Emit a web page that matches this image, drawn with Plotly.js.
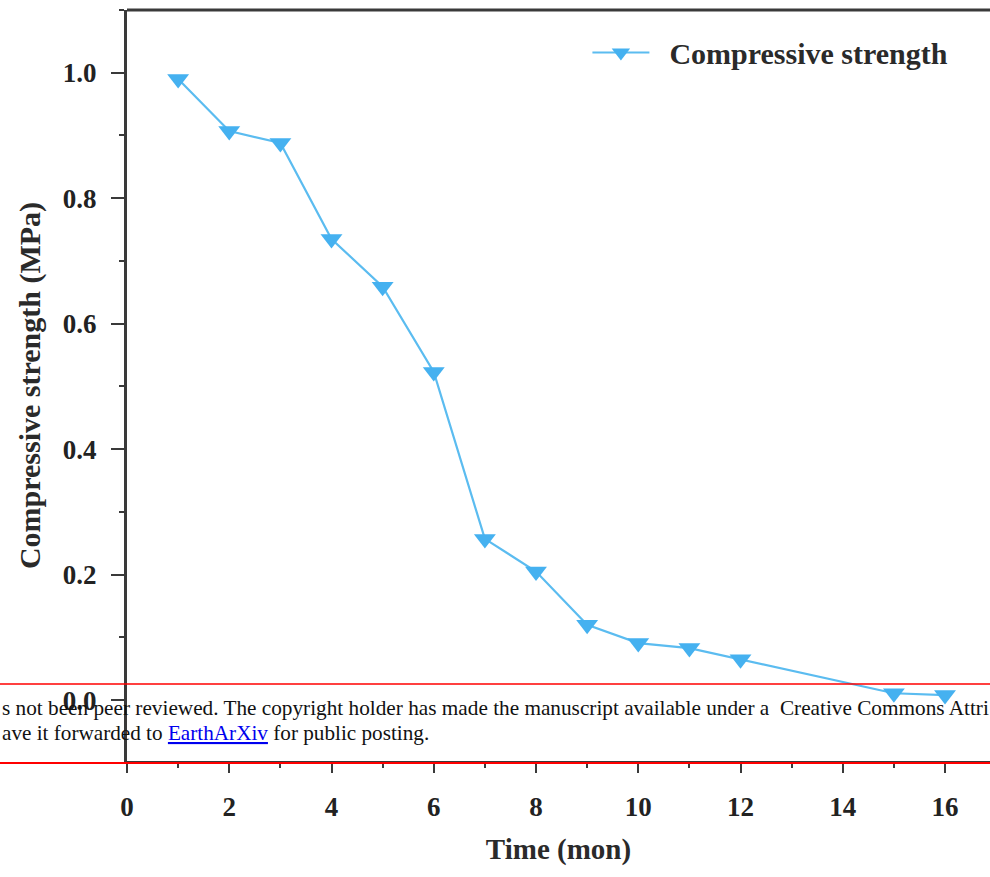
<!DOCTYPE html>
<html>
<head>
<meta charset="utf-8">
<script src="https://cdn.plot.ly/plotly-3.0.1.min.js"></script>
<style>html,body{margin:0;padding:0;background:#fff;overflow:hidden}</style>
</head>
<body>
<div id="chart" style="width:990px;height:877px"></div>
<script>
// Data
const timeMonths = [1, 2, 3, 4, 5, 6, 7, 8, 9, 10, 11, 12, 15, 16];
const compressiveStrength = [0.99, 0.907, 0.888, 0.735, 0.659, 0.523, 0.257, 0.205, 0.12, 0.091, 0.083, 0.065, 0.011, 0.008];
const xTickVals = [0, 2, 4, 6, 8, 10, 12, 14, 16];
const yTickVals = [0.0, 0.2, 0.4, 0.6, 0.8, 1.0];
const yTickText = ['0.0', '0.2', '0.4', '0.6', '0.8', '1.0'];
const seriesName = 'Compressive strength';
const bannerLine1 = 's not been peer reviewed. The copyright holder has made the manuscript available under a&nbsp; Creative Commons Attri';
const bannerLine2 = 'ave it forwarded to <span style="color:#0000EE;text-decoration:underline">EarthArXiv</span> for public posting.';

const serif = 'Liberation Serif, Times New Roman, serif';
const axisColor = '#3a3a3a';

const trace = {
  x: timeMonths,
  y: compressiveStrength,
  name: '&nbsp;&nbsp;' + seriesName,
  type: 'scatter',
  mode: 'lines+markers',
  line: {color: '#5bbcf0', width: 2.2},
  marker: {symbol: 'triangle-down', size: 19, color: '#45b1f0'},
  cliponaxis: false
};

const layout = {
  width: 990,
  height: 877,
  margin: {l: 127, r: 0, t: 10, b: 116},
  paper_bgcolor: '#ffffff',
  plot_bgcolor: '#ffffff',
  showlegend: true,
  legend: {
    x: 0.5335, y: 0.978, xanchor: 'left', yanchor: 'top',
    bgcolor: 'rgba(0,0,0,0)',
    font: {family: serif, size: 30, color: '#2a2a2a', weight: 'bold'},
    itemwidth: 57
  },
  xaxis: {
    range: [0, 16.88],
    tickvals: xTickVals,
    ticks: 'outside', ticklen: 9, tickwidth: 2, tickcolor: axisColor,
    minor: {dtick: 1, ticks: 'outside', ticklen: 4, tickwidth: 2, tickcolor: axisColor},
    showline: true, linecolor: axisColor, linewidth: 3,
    showgrid: false, zeroline: false,
    tickfont: {family: serif, size: 27, color: '#222', weight: 'bold'},
    ticklabelstandoff: 11,
    title: {text: 'Time (mon)', font: {family: serif, size: 29, color: '#2a2a2a', weight: 'bold'}, standoff: 18}
  },
  yaxis: {
    range: [-0.097, 1.1],
    tickvals: yTickVals,
    ticktext: yTickText,
    ticks: 'outside', ticklen: 13, tickwidth: 2, tickcolor: axisColor,
    minor: {dtick: 0.1, ticks: 'outside', ticklen: 5, tickwidth: 2, tickcolor: axisColor},
    showline: true, linecolor: axisColor, linewidth: 3,
    showgrid: false, zeroline: false,
    tickfont: {family: serif, size: 27, color: '#222', weight: 'bold'},
    ticklabelstandoff: 9,
    title: {text: 'Compressive strength (MPa)', font: {family: serif, size: 30, color: '#2a2a2a', weight: 'bold'}, standoff: 14}
  },
  shapes: [
    {type: 'line', xref: 'paper', yref: 'paper', x0: 0, x1: 1, y0: 1, y1: 1, line: {color: axisColor, width: 3}},
    {type: 'line', xref: 'paper', yref: 'paper', x0: -0.2, x1: 1.01, y0: (761 - 684) / 751, y1: (761 - 684) / 751, line: {color: '#ff0000', width: 1.5}},
    {type: 'line', xref: 'paper', yref: 'paper', x0: -0.2, x1: 1.01, y0: -2 / 751, y1: -2 / 751, line: {color: '#ff0000', width: 2}}
  ],
  annotations: [
    {xref: 'paper', yref: 'paper', x: -127 / 863, y: (761 - 708) / 751, xanchor: 'left', yanchor: 'middle', showarrow: false,
     text: bannerLine1, font: {family: serif, size: 21.25, color: '#111'}},
    {xref: 'paper', yref: 'paper', x: -127 / 863, y: (761 - 733) / 751, xanchor: 'left', yanchor: 'middle', showarrow: false,
     text: bannerLine2, font: {family: serif, size: 21.2, color: '#111'}}
  ]
};

Plotly.newPlot('chart', [trace], layout, {displayModeBar: false, staticPlot: true});
</script>
</body>
</html>
